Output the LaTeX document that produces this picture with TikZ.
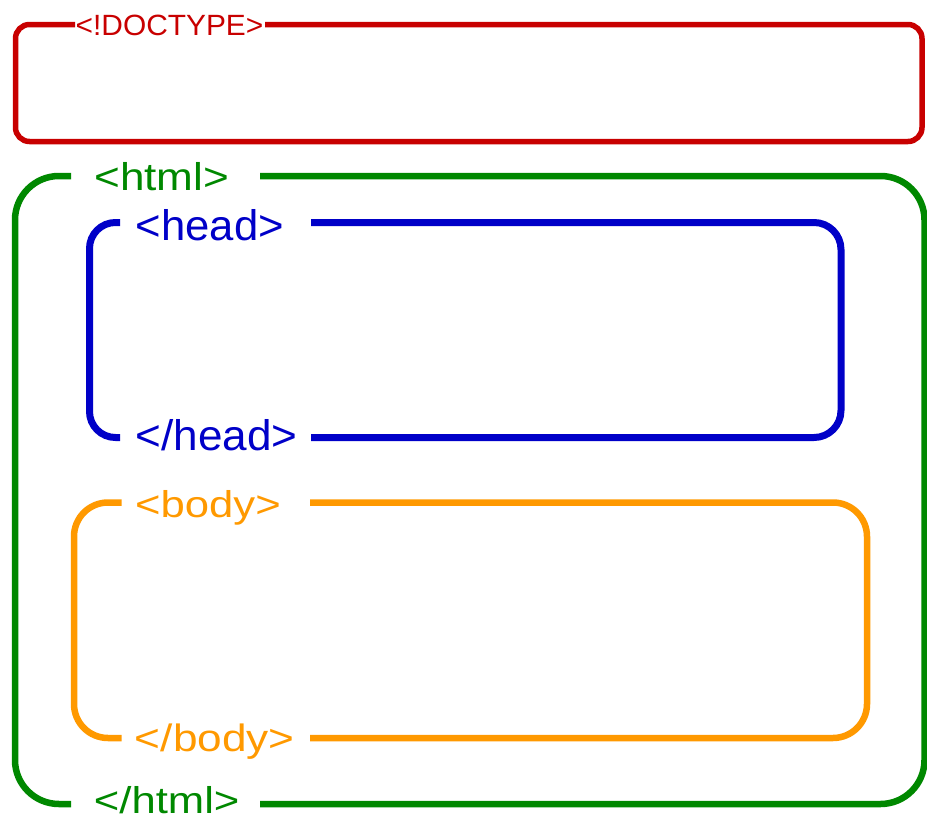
\documentclass[tikz,border=0pt]{standalone}
\usepackage{fontspec}
\usepackage{graphicx}
\setmainfont{Liberation Sans}
\definecolor{tagred}{RGB}{200,0,0}
\definecolor{taggreen}{RGB}{0,136,0}
\definecolor{tagblue}{RGB}{0,0,200}
\definecolor{tagorange}{RGB}{255,153,0}
\tikzset{
  frame/.style={line cap=butt, line join=round},
  tag/.style={inner sep=0pt, outer sep=0pt, anchor=base},
}
\newcommand{\tagtext}[3]{\scalebox{#2}[1]{\fontsize{#1}{#1}\selectfont #3}}
\begin{document}
\begin{tikzpicture}[x=1pt,y=-1pt]
\useasboundingbox (0,0) rectangle (927,822);
% DOCTYPE
\draw[frame, tagred, line width=5.5pt, rounded corners=14pt]
  (265,24.5) -- (922,24.5) -- (922,141.5) -- (15.5,141.5) -- (15.5,24.5) -- (75,24.5);
\node[tag, text=tagred] (doctype) at (169.5,35) {\tagtext{29.3}{1.02}{<!DOCTYPE>}};
% html
\draw[frame, taggreen, line width=6.5pt, rounded corners=44pt]
  (260,176) -- (924.5,176) -- (924.5,804) -- (260,804);
\draw[frame, taggreen, line width=6.5pt, rounded corners=44pt]
  (71,176) -- (15,176) -- (15,804) -- (71,804);
\node[tag, text=taggreen] (htmlopen) at (161.7,190) {\tagtext{38.7}{1.14}{<html>}};
\node[tag, text=taggreen] (htmlclose) at (166.7,813) {\tagtext{37.3}{1.17}{</html>}};
% head
\draw[frame, tagblue, line width=7pt, rounded corners=27pt]
  (311,222.5) -- (841,222.5) -- (841,437.5) -- (311,437.5);
\draw[frame, tagblue, line width=7pt, rounded corners=26pt]
  (120,222.5) -- (89.5,222.5) -- (89.5,437.5) -- (120,437.5);
\node[tag, text=tagblue] (headopen) at (210,240.7) {\tagtext{42.8}{1.02}{<head>}};
\node[tag, text=tagblue] (headclose) at (216.5,450.7) {\tagtext{42.8}{1.03}{</head>}};
% body
\draw[frame, tagorange, line width=6.5pt, rounded corners=34pt]
  (310,502.5) -- (867,502.5) -- (867,738) -- (310,738);
\draw[frame, tagorange, line width=6.5pt, rounded corners=34pt]
  (121.7,502.5) -- (74,502.5) -- (74,738) -- (121.7,738);
\node[tag, text=tagorange] (bodyopen) at (208,517.3) {\tagtext{37.3}{1.17}{<body>}};
\node[tag, text=tagorange] (bodyclose) at (214.8,751) {\tagtext{38.1}{1.16}{</body>}};
\end{tikzpicture}
\end{document}
